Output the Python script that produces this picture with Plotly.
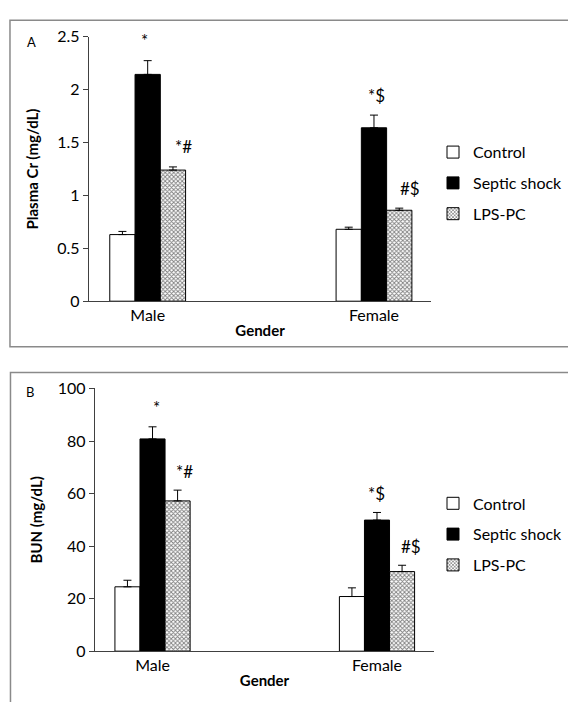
import plotly.graph_objects as go

W, H = 568, 702

genders = ["Male", "Female"]
series_names = ["Control", "Septic shock", "LPS-PC"]

cr_control = [0.63, 0.68]
cr_septic = [2.145, 1.64]
cr_lps = [1.24, 0.86]
cr_control_err = [0.03, 0.02]
cr_septic_err = [0.13, 0.12]
cr_lps_err = [0.03, 0.02]
cr_septic_marks = ["*", "*$"]
cr_lps_marks = ["*#", "#$"]

bun_control = [24.5, 20.8]
bun_septic = [80.8, 49.9]
bun_lps = [57.2, 30.3]
bun_control_err = [2.5, 3.3]
bun_septic_err = [4.6, 2.9]
bun_lps_err = [4.1, 2.4]
bun_septic_marks = ["*", "*$"]
bun_lps_marks = ["*#", "#$"]

cr_ticks = [0, 0.5, 1, 1.5, 2, 2.5]
cr_ticktext = ["0", "0.5", "1", "1.5", "2", "2.5"]
bun_ticks = [0, 20, 40, 60, 80, 100]

FONT = "Lato"
BARGAP = 0.665
BW = (1 - BARGAP) / 3


def px(x):
    return x / W


def py(y):
    return 1 - y / H


fig = go.Figure()

styles = [
    dict(color="white", pattern=None),
    dict(color="black", pattern=None),
    dict(color="white", pattern=dict(shape="x", size=3, solidity=0.5, fgcolor="black", bgcolor="white")),
]


def add_panel(vals, errs, xa, ya, legend, ey_w):
    for name, v, e, st in zip(series_names, vals, errs, styles):
        marker = dict(color=st["color"], line=dict(color="black", width=1))
        if st["pattern"]:
            marker["pattern"] = st["pattern"]
        fig.add_trace(go.Bar(
            x=genders, y=v, name=name, marker=marker, xaxis=xa, yaxis=ya,
            legend=legend, legendgroup=legend + name,
            error_y=dict(type="data", array=e, arrayminus=[0] * len(e), symmetric=False,
                         color="black", thickness=1, width=ey_w),
        ))


add_panel([cr_control, cr_septic, cr_lps], [cr_control_err, cr_septic_err, cr_lps_err],
          "x", "y", "legend", 4)
add_panel([bun_control, bun_septic, bun_lps], [bun_control_err, bun_septic_err, bun_lps_err],
          "x2", "y2", "legend2", 4)

annotations = []


def add_marks(sep, sep_e, lps, lps_e, sep_m, lps_m, xr, yr, ys, sep_dx, lps_dx):
    for i in range(len(genders)):
        annotations.append(dict(x=i, y=sep[i] + sep_e[i], xref=xr, yref=yr, text=sep_m[i],
                                showarrow=False, yshift=ys, xshift=sep_dx[i],
                                font=dict(family=FONT, size=17, color="black")))
        annotations.append(dict(x=i + BW, y=lps[i] + lps_e[i], xref=xr, yref=yr, text=lps_m[i],
                                showarrow=False, yshift=ys, xshift=lps_dx[i],
                                font=dict(family=FONT, size=17, color="black")))


add_marks(cr_septic, cr_septic_err, cr_lps, cr_lps_err, cr_septic_marks, cr_lps_marks,
          "x", "y", 20, [-3, 3], [11, 11])
add_marks(bun_septic, bun_septic_err, bun_lps, bun_lps_err, bun_septic_marks, bun_lps_marks,
          "x2", "y2", 19, [4, 0], [7, 9])

annotations.append(dict(x=px(32), y=py(33), xref="paper", yref="paper", text="A", showarrow=False,
                        xanchor="center", yanchor="middle",
                        font=dict(family=FONT, size=13, color="black")))
annotations.append(dict(x=px(30), y=py(393), xref="paper", yref="paper", text="B", showarrow=False,
                        xanchor="center", yanchor="middle",
                        font=dict(family=FONT, size=13, color="black")))

shapes = [
    dict(type="rect", xref="paper", yref="paper", x0=px(10), x1=1.02, y0=py(346), y1=py(10.5),
         line=dict(color="#8a8a8a", width=1.5)),
    dict(type="rect", xref="paper", yref="paper", x0=px(10.5), x1=1.02, y0=-0.02, y1=py(372.5),
         line=dict(color="#8a8a8a", width=1.5)),
]

axis_common = dict(showgrid=False, zeroline=False, showline=True, linecolor="#404040", linewidth=1,
                   tickfont=dict(family=FONT, size=16, color="black"))
title_font = dict(family=FONT, size=15, color="black")

fig.update_layout(
    width=W, height=H, margin=dict(l=0, r=0, t=0, b=0),
    paper_bgcolor="white", plot_bgcolor="white",
    barmode="group", bargap=BARGAP, bargroupgap=0,
    annotations=annotations, shapes=shapes,
    xaxis=dict(domain=[px(89), px(432)], anchor="y", range=[-0.260, 1.253], ticks="",
               title=dict(text="<b>Gender</b>", font=title_font, standoff=2),
               **axis_common),
    yaxis=dict(domain=[py(299.3), py(27.6)], anchor="x", range=[0, 2.5], tickvals=cr_ticks,
               ticktext=cr_ticktext, ticks="outside", ticklen=5, tickcolor="#404040",
               title=dict(text="<b>Plasma Cr (mg/dL)</b>", font=title_font, standoff=15),
               **axis_common),
    xaxis2=dict(domain=[px(95), px(435)], anchor="y2", range=[-0.257, 1.255], ticks="",
                title=dict(text="<b>Gender</b>", font=title_font, standoff=2),
                **axis_common),
    yaxis2=dict(domain=[py(659), py(389)], anchor="x2", range=[0, 100], tickvals=bun_ticks,
                ticks="outside", ticklen=5, tickcolor="#404040",
                title=dict(text="<b>BUN (mg/dL)</b>", font=title_font, standoff=11),
                **axis_common),
    legend=dict(x=px(434), y=py(178), xanchor="left", yanchor="middle", tracegroupgap=7,
                font=dict(family=FONT, size=16, color="black"), bgcolor="rgba(0,0,0,0)", itemwidth=30),
    legend2=dict(x=px(434), y=py(539), xanchor="left", yanchor="middle", tracegroupgap=7,
                 font=dict(family=FONT, size=16, color="black"), bgcolor="rgba(0,0,0,0)", itemwidth=30),
)

fig.write_html("out.html", config={"displayModeBar": False},
               post_script="document.body.style.margin='0';document.body.style.overflow='hidden';")
